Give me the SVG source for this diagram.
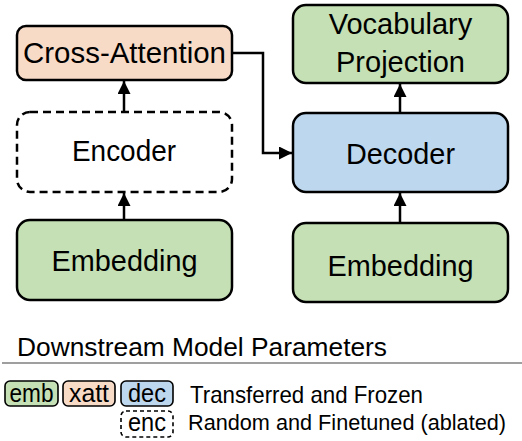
<svg xmlns="http://www.w3.org/2000/svg" width="522" height="441" viewBox="0 0 522 441">
<style>
.box{stroke:#000;stroke-width:2.5}
.dash{fill:#fff;stroke:#000;stroke-width:2.5;stroke-dasharray:8 5}
.t{font-family:"Liberation Sans",Arial,sans-serif;font-size:29px;fill:#000;text-anchor:middle}
.lt{font-family:"Liberation Sans",Arial,sans-serif;font-size:24px;fill:#000}
.lb{font-family:"Liberation Sans",Arial,sans-serif;font-size:25px;fill:#000;text-anchor:middle}
.lbox{stroke:#000;stroke-width:1.6}
.conn{fill:none;stroke:#000;stroke-width:2.5}
.green{fill:#C5E0B4}
.blue{fill:#BDD7EE}
.peach{fill:#F8DBC7}
</style>
<defs>
<marker id="ah" viewBox="0 0 10 10" refX="10" refY="5" markerWidth="5.2" markerHeight="5.2" markerUnits="strokeWidth" orient="auto">
<path d="M0,0 L10,5 L0,10 z" fill="#000"/>
</marker>
</defs>
<rect width="522" height="441" fill="#fff"/>

<g id="connectors">
<line class="conn" x1="124" y1="220" x2="124" y2="193" marker-end="url(#ah)"/>
<line class="conn" x1="124" y1="112" x2="124" y2="81" marker-end="url(#ah)"/>
<line class="conn" x1="400" y1="223" x2="400" y2="193" marker-end="url(#ah)"/>
<line class="conn" x1="400" y1="113" x2="400" y2="84" marker-end="url(#ah)"/>
<polyline class="conn" points="232,53 263,53 263,153 292,153" marker-end="url(#ah)"/>
</g>

<g id="cross-attention">
<rect class="box peach" x="17" y="26" width="215" height="54" rx="9"/>
<text class="t" x="124.5" y="63" textLength="203" lengthAdjust="spacingAndGlyphs">Cross-Attention</text>
</g>
<g id="encoder">
<rect class="dash" x="17" y="112" width="215" height="80" rx="13"/>
<text class="t" x="124" y="161" textLength="104" lengthAdjust="spacingAndGlyphs">Encoder</text>
</g>
<g id="embedding-left">
<rect class="box green" x="17" y="220" width="215" height="80" rx="13"/>
<text class="t" x="124.5" y="271" textLength="146" lengthAdjust="spacingAndGlyphs">Embedding</text>
</g>
<g id="vocab-projection">
<rect class="box green" x="293" y="5" width="215" height="78" rx="13"/>
<text class="t" x="400.5" y="34">Vocabulary</text>
<text class="t" x="400.5" y="72">Projection</text>
</g>
<g id="decoder">
<rect class="box blue" x="293" y="113" width="215" height="79" rx="13"/>
<text class="t" x="400.5" y="164" textLength="109" lengthAdjust="spacingAndGlyphs">Decoder</text>
</g>
<g id="embedding-right">
<rect class="box green" x="293" y="223" width="215" height="79" rx="13"/>
<text class="t" x="400.5" y="276" textLength="146" lengthAdjust="spacingAndGlyphs">Embedding</text>
</g>

<g id="legend">
<text class="lt" x="17" y="356" style="font-size:25px" textLength="370" lengthAdjust="spacingAndGlyphs">Downstream Model Parameters</text>
<line x1="2" y1="363" x2="522" y2="363" stroke="#7f7f7f" stroke-width="1.5"/>
<rect class="lbox green" x="5" y="381" width="53" height="25" rx="5"/>
<text class="lb" x="31.5" y="402" textLength="44" lengthAdjust="spacingAndGlyphs">emb</text>
<rect class="lbox peach" x="63" y="381" width="52" height="25" rx="5"/>
<text class="lb" x="89" y="402" textLength="40" lengthAdjust="spacingAndGlyphs">xatt</text>
<rect class="lbox blue" x="121" y="381" width="52" height="25" rx="5"/>
<text class="lb" x="147" y="402" textLength="38" lengthAdjust="spacingAndGlyphs">dec</text>
<rect x="121" y="411" width="52" height="26" rx="5" fill="#fff" stroke="#000" stroke-width="1.6" stroke-dasharray="4 3"/>
<text class="lb" x="147" y="431" textLength="38" lengthAdjust="spacingAndGlyphs">enc</text>
<text class="lt" x="190" y="403" textLength="233" lengthAdjust="spacingAndGlyphs">Transferred and Frozen</text>
<text class="lt" x="188" y="430" style="font-size:22px" textLength="318" lengthAdjust="spacingAndGlyphs">Random and Finetuned (ablated)</text>
</g>
</svg>
